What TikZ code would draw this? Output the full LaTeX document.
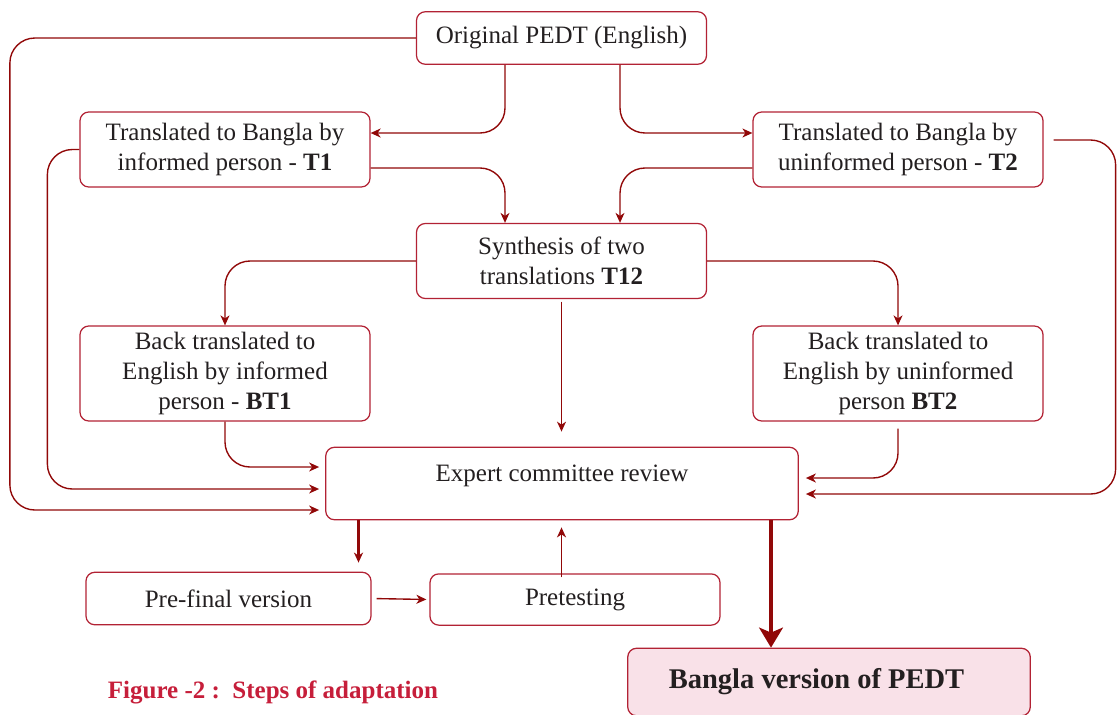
\documentclass[tikz,border=0pt]{standalone}
\usepackage{fontspec}
\setmainfont{Liberation Serif}
\usetikzlibrary{arrows.meta}
\definecolor{boxred}{RGB}{178,34,52}
\definecolor{linered}{RGB}{145,8,8}
\definecolor{capred}{RGB}{198,30,58}
\definecolor{pinkfill}{RGB}{249,225,232}
\definecolor{txt}{RGB}{35,31,32}
\tikzset{box/.style = {draw=boxred, line width=0.5pt, rounded corners=3.5pt, align=center,
        text=txt, inner sep=1pt, minimum width=116pt, minimum height=30pt},
    fin/.style = {box, fill=pinkfill, minimum width=161pt, minimum height=27pt, font=\fontsize{11.4}{13}\selectfont\bfseries},
    ln/.style  = {draw=linered, line width=0.55pt, rounded corners=10pt, ->},
    lnb/.style = {ln, line width=0.9pt},
    lnh/.style = {draw=linered, line width=1.7pt, -{Stealth[length=8pt,width=9.5pt,inset=2pt]}}}

\begin{document}
\begin{tikzpicture}[x=0.4pt, y=-0.4pt, >={Stealth[length=4pt,width=3.6pt,inset=1.2pt]}]
        \useasboundingbox (0,0) rectangle (1117,714);
        \node[box, minimum height=21pt] (orig) at (561.5,38) {Original PEDT (English)};
        \node[box] (t1) at (225,149.5) {Translated to Bangla by\\informed person - \textbf{T1}};
        \node[box] (t2) at (898,149.5) {Translated to Bangla by\\uninformed person - \textbf{T2}};
        \node[box] (t12) at (561.5,261) {Synthesis of two\\translations \textbf{T12}};
        \node[box, minimum height=38pt] (bt1) at (225,373.5) {Back translated to\\English by informed\\person - \textbf{BT1}};
        \node[box, minimum height=38pt] (bt2) at (898,373.5) {Back translated to\\English by uninformed\\person \textbf{BT2}};
        \node[box, minimum width=189pt, minimum height=29pt, text depth=8pt] (expert) at (562,483.5) {Expert committee review};
        \node[box, minimum width=114pt, minimum height=21pt] (prefinal) at (228.5,598.5) {Pre-final version};
        \node[box, minimum height=20.5pt] (pretest) at (575,599.5) {Pretesting};
        \node[fin] (bangla) at (829,682) {Bangla version of PEDT\hspace{10pt}};
        \node[text=capred, font=\bfseries] (cap) at (273,692) {Figure -2 :\, Steps of adaptation};

        \coordinate (pf) at ([xshift=52pt]prefinal.north);
        \coordinate (bv) at ([xshift=-23.2pt]bangla.north);

        % from the original
        \draw[ln] ([xshift=-22.6pt]orig.south) |- ([yshift=6.6pt]t1.east);
        \draw[ln] ([xshift=23.4pt]orig.south) |- ([yshift=6.6pt]t2.west);
        \draw[ln, shorten >=2.4pt] (orig.west) -- ++(-162.4pt,0) |- ([yshift=-10.6pt]expert.west);

        % into the synthesis
        \draw[ln] ([yshift=-7.4pt]t1.east) -| ([xshift=-22.6pt]t12.north);
        \draw[ln] ([yshift=-7.4pt]t2.west) -| ([xshift=23.4pt]t12.north);
        \foreach \s/\n in {west/bt1, east/bt2} \draw[ln] (t12.\s) -| (\n.north);
        \draw[ln, shorten <=1pt, shorten >=6pt] (t12.south) -- (t12.south |- expert.north);

        % into the committee
        \draw[ln, shorten >=2.4pt] (t1.west) -- ++(-12.8pt,0) |- ([yshift=-2.2pt]expert.west);
        \draw[ln, shorten >=2.4pt] (bt1.south) |- ([yshift=6.6pt]expert.west);
        \draw[ln, shorten <=2.8pt, shorten >=2.8pt] (bt2.south) |- ([yshift=2.2pt]expert.east);
        \draw[ln, shorten <=4pt, shorten >=2.8pt] ([yshift=3.8pt]t2.east) -- ++(28.8pt,0) |- ([yshift=-4.2pt]expert.east);

        % pretesting loop
        \draw[lnb, shorten >=3.6pt] (expert.south -| pf) -- (pf);
        \draw[ln, shorten <=2pt, shorten >=1.2pt] (prefinal.east) -- (pretest.west);
        \draw[ln, shorten <=-1.6pt, shorten >=2.8pt] (pretest.north -| t12.south) -- (t12.south |- expert.south);

        \draw[lnh] (expert.south -| bv) -- (bv);
    \end{tikzpicture}
\end{document}
